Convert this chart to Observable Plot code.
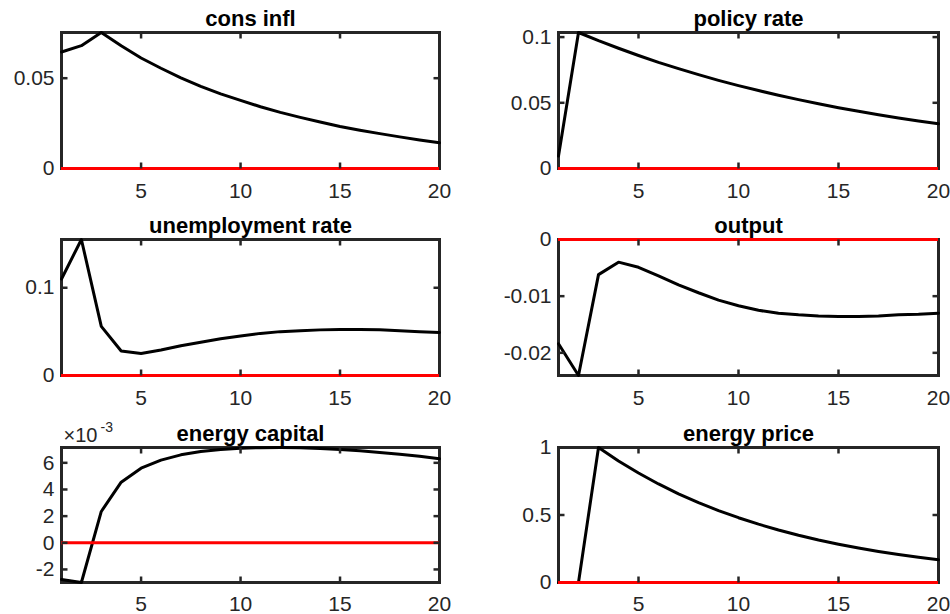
<!DOCTYPE html>
<html>
<head>
<meta charset="utf-8">
<script src="https://cdn.jsdelivr.net/npm/d3@7"></script>
<script src="https://cdn.jsdelivr.net/npm/@observablehq/plot@0.6"></script>
<style>
  html, body { margin: 0; padding: 0; background: #fff; overflow: hidden; }
  #fig { position: relative; width: 950px; height: 614px; background: #fff; overflow: hidden; }
  #fig > svg { position: absolute; overflow: visible; }
</style>
</head>
<body>
<div id="fig"></div>
<script>
// Horizon (periods)
const periods = d3.range(1, 21);

// Series values
const consInfl = [0.0645, 0.0680, 0.0753, 0.0680, 0.0612, 0.0555, 0.0502, 0.0455, 0.0413, 0.0377,
                  0.0342, 0.0311, 0.0283, 0.0257, 0.0233, 0.0212, 0.0193, 0.0175, 0.0158, 0.0142];
const policyRate = [0.0095, 0.1035, 0.0973, 0.0915, 0.0860, 0.0808, 0.0760, 0.0714, 0.0671, 0.0631,
                    0.0593, 0.0558, 0.0524, 0.0493, 0.0463, 0.0435, 0.0409, 0.0385, 0.0362, 0.0340];
const unemploymentRate = [0.110, 0.155, 0.056, 0.028, 0.025, 0.029, 0.034, 0.038, 0.042, 0.045,
                          0.048, 0.050, 0.051, 0.052, 0.0525, 0.0525, 0.052, 0.051, 0.050, 0.049];
const output = [-0.0184, -0.0240, -0.0062, -0.0040, -0.0049, -0.0064, -0.0080, -0.0094, -0.0107, -0.0117,
                -0.0125, -0.0130, -0.0133, -0.0135, -0.0136, -0.0136, -0.0135, -0.0133, -0.0132, -0.0130];
// energy capital, in units of 10^-3
const energyCapital = [-2.75, -2.98, 2.35, 4.55, 5.60, 6.20, 6.60, 6.85, 7.00, 7.10,
                       7.14, 7.15, 7.13, 7.08, 7.00, 6.90, 6.78, 6.65, 6.50, 6.30];
const energyPrice = [0, 0, 1.000, 0.900, 0.811, 0.730, 0.657, 0.592, 0.533, 0.480,
                     0.432, 0.389, 0.350, 0.315, 0.284, 0.256, 0.230, 0.207, 0.187, 0.168];

// Titles and tick labels
const titles = ["cons infl", "policy rate", "unemployment rate", "output", "energy capital", "energy price"];
const xTicks = [5, 10, 15, 20];
const yTicks = [
  [0, 0.05],
  [0, 0.05, 0.1],
  [0, 0.1],
  [-0.02, -0.01, 0],
  [-2, 0, 2, 4, 6],
  [0, 0.5, 1]
];
const exponentLabel = ["×10", "-3"];

const series = [consInfl, policyRate, unemploymentRate, output, energyCapital, energyPrice];

const fig = document.getElementById("fig");
const W = 475, H = 207;
const rowTop = [0, 207, 414];
const rowMarginTop = [32, 32, 33];
const rowMarginBottom = [39, 39, 39];
const rowLabelPad = [15, 15, 14];
const colLeft = [0, 475];
const colMarginLeft = [61, 83];
const colMarginRight = [36, 12];
const axisColor = "#262626";
const tk = 6;
const xDomain = [1, 20];

series.forEach((vals, i) => {
  const row = Math.floor(i / 2), col = i % 2;
  const data = periods.map((p, j) => ({x: p, y: vals[j]}));
  const lo = Math.min(0, d3.min(vals)), hi = Math.max(0, d3.max(vals));
  const plotW = W - colMarginLeft[col] - colMarginRight[col];
  const plotH = H - rowMarginTop[row] - rowMarginBottom[row];
  // tick length expressed in data units of each scale
  const dyT = (hi - lo) * tk / plotH;
  const dxT = (xDomain[1] - xDomain[0]) * tk / plotW;
  const xt = xTicks.filter(t => t < xDomain[1]);
  const yt = yTicks[i].filter(t => t > lo && t < hi);
  const tickStyle = {stroke: axisColor, strokeWidth: 2.5};
  const marks = [
    Plot.frame({stroke: axisColor, strokeWidth: 3}),
    Plot.line(data, {x: "x", y: "y", stroke: "black", strokeWidth: 3}),
    Plot.ruleY([0], {stroke: "#ff0000", strokeWidth: 3}),
    // inward ticks on all four sides
    Plot.link(xt, {x1: d => d, x2: d => d, y1: () => lo, y2: () => lo + dyT, ...tickStyle}),
    Plot.link(xt, {x1: d => d, x2: d => d, y1: () => hi, y2: () => hi - dyT, ...tickStyle}),
    Plot.link(yt, {y1: d => d, y2: d => d, x1: () => xDomain[0], x2: () => xDomain[0] + dxT, ...tickStyle}),
    Plot.link(yt, {y1: d => d, y2: d => d, x1: () => xDomain[1], x2: () => xDomain[1] - dxT, ...tickStyle}),
    // tick labels
    Plot.axisX({anchor: "bottom", ticks: xTicks, tickSize: 0, tickPadding: rowLabelPad[row], tickFormat: d => String(d), label: null, fill: axisColor}),
    Plot.axisY({anchor: "left", ticks: yTicks[i], tickSize: 0, tickPadding: 7, tickFormat: d => String(d), label: null, fill: axisColor}),
    Plot.text([titles[i]], {frameAnchor: "top", lineAnchor: "bottom", dy: -7, fontWeight: "bold", fontSize: 22, fill: "black"})
  ];
  if (i === 4) {
    marks.push(Plot.text([exponentLabel[0]], {frameAnchor: "top-left", textAnchor: "start", lineAnchor: "bottom", dx: 2, dy: -6, fontSize: 20, fill: axisColor}));
    marks.push(Plot.text([exponentLabel[1]], {frameAnchor: "top-left", textAnchor: "start", lineAnchor: "bottom", dx: 39, dy: -16, fontSize: 14, fill: axisColor}));
  }
  const chart = Plot.plot({
    width: W,
    height: H,
    marginTop: rowMarginTop[row],
    marginBottom: rowMarginBottom[row],
    marginLeft: colMarginLeft[col],
    marginRight: colMarginRight[col],
    x: {domain: xDomain, axis: null},
    y: {domain: [lo, hi], axis: null},
    style: {fontFamily: "'Liberation Sans', Arial, sans-serif", fontSize: "21px", color: axisColor, background: "transparent", overflow: "visible"},
    marks
  });
  chart.style.left = colLeft[col] + "px";
  chart.style.top = rowTop[row] + "px";
  fig.appendChild(chart);
});
</script>
</body>
</html>
